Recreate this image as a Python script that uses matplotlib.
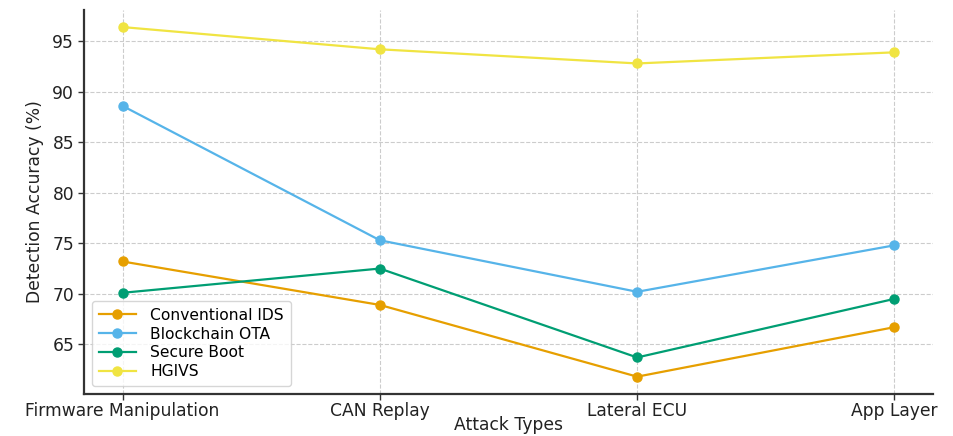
import matplotlib
matplotlib.use("Agg")
import matplotlib.pyplot as plt

attack_types = ["Firmware Manipulation", "CAN Replay", "Lateral ECU", "App Layer"]
conventional_ids = [73.2, 68.9, 61.8, 66.7]
blockchain_ota = [88.6, 75.3, 70.2, 74.8]
secure_boot = [70.1, 72.5, 63.7, 69.5]
hgivs = [96.4, 94.2, 92.8, 93.9]

series = [
    ("Conventional IDS", conventional_ids, "#E69F00"),
    ("Blockchain OTA", blockchain_ota, "#56B4E9"),
    ("Secure Boot", secure_boot, "#009E73"),
    ("HGIVS", hgivs, "#F0E442"),
]

plt.rcParams["font.family"] = ["DejaVu Sans"]
fig = plt.figure(figsize=(9.54, 4.36), dpi=100)
ax = fig.add_axes([0.088, 0.096, 0.89, 0.882])

x = list(range(len(attack_types)))
for name, vals, color in series:
    ax.plot(x, vals, marker="o", markersize=6.5, linewidth=1.6, color=color, label=name)

ax.set_xticks(x)
ax.set_xticklabels(attack_types, fontsize=12.3, color="#222222")
ax.tick_params(axis="y", labelsize=12.3, labelcolor="#222222", pad=3)
ax.tick_params(axis="x", pad=1.5)
ax.tick_params(axis="both", direction="out", length=4, width=1, color="#333333")
ax.set_yticks([65, 70, 75, 80, 85, 90, 95])

ax.set_xlabel("Attack Types", fontsize=12.3, color="#222222", va="center")
ax.xaxis.set_label_coords(0.5, -0.079)
ax.set_ylabel("Detection Accuracy (%)", fontsize=12.3, color="#222222", labelpad=6)

ax.grid(True, linestyle="--", linewidth=0.8, color="#cccccc")
ax.set_axisbelow(True)
for side in ("top", "right"):
    ax.spines[side].set_visible(False)
for side in ("left", "bottom"):
    ax.spines[side].set_linewidth(1.6)
    ax.spines[side].set_color("#333333")

leg = ax.legend(loc="lower left", fontsize=11.2, frameon=True, borderpad=0.45,
                handlelength=2.4, handletextpad=0.9, labelspacing=0.25, fancybox=True,
                bbox_to_anchor=(0.0, 0.0))
leg.get_frame().set_edgecolor("#cccccc")

fig.savefig("out.png", dpi=100)
